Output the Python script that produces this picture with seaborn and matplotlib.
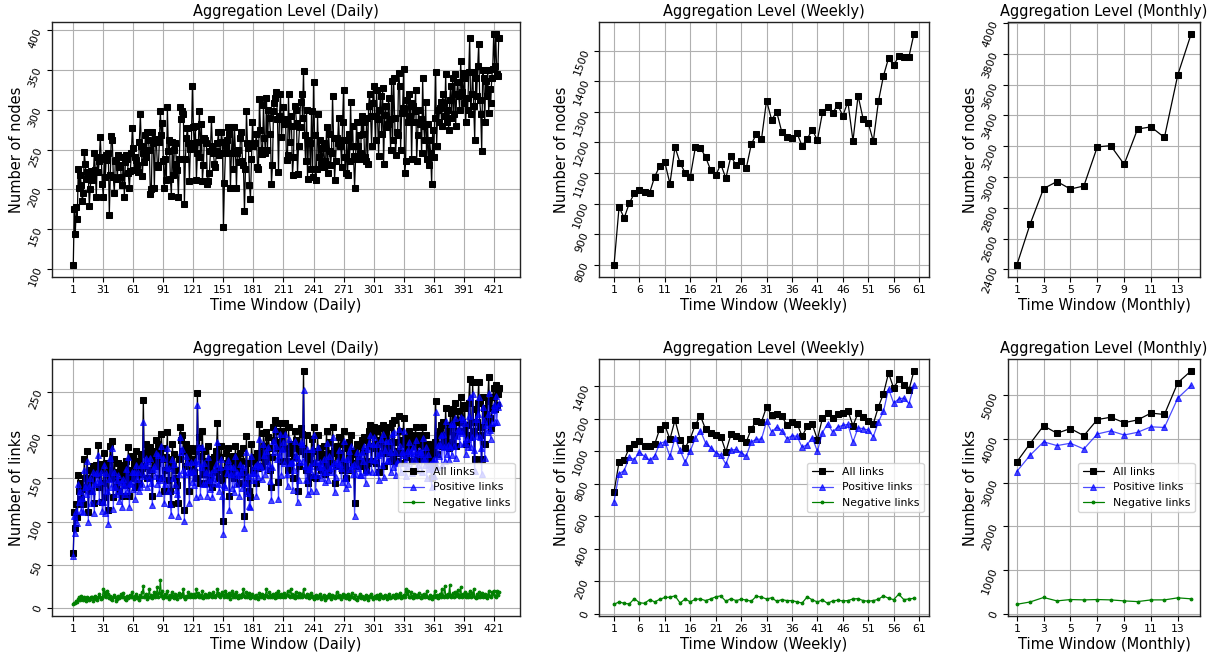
import numpy as np
import pandas as pd
import matplotlib
matplotlib.use("Agg")
import matplotlib.pyplot as plt
import seaborn as sns

# ---- daily (426 windows) ----
daily_nodes = [
    104, 175, 144, 178, 163, 225, 202, 218, 205, 185, 195, 247, 232, 213, 222, 218, 179, 200, 223, 212, 215, 246, 224, 190, 240, 222, 236, 266, 238, 207,
    190, 240, 215, 243, 237, 245, 168, 218, 267, 262, 215, 195, 235, 237, 213, 243, 228, 230, 215, 205, 240, 190, 234, 243, 238, 220, 201, 223, 245, 277,
    252, 224, 240, 237, 230, 222, 260, 295, 255, 216, 245, 234, 268, 240, 272, 262, 249, 194, 200, 272, 258, 202, 263, 259, 231, 228, 260, 298, 268, 283,
    236, 201, 238, 212, 303, 248, 262, 213, 192, 260, 218, 250, 258, 232, 224, 190, 238, 303, 288, 298, 295, 181, 238, 265, 277, 258, 210, 251, 258, 330,
    278, 253, 280, 212, 245, 260, 298, 240, 282, 210, 230, 265, 262, 258, 206, 210, 220, 248, 288, 255, 245, 232, 228, 248, 258, 272, 243, 245, 272, 260,
    153, 208, 246, 255, 262, 278, 270, 201, 245, 278, 226, 278, 248, 202, 246, 250, 234, 265, 272, 235, 230, 172, 225, 298, 258, 252, 205, 188, 238, 285,
    255, 258, 258, 270, 228, 225, 314, 275, 250, 244, 306, 265, 245, 315, 250, 300, 290, 270, 207, 230, 298, 308, 315, 322, 288, 222, 292, 320, 266, 288,
    303, 282, 288, 237, 243, 320, 260, 292, 280, 218, 240, 305, 300, 283, 219, 255, 278, 310, 320, 290, 349, 268, 236, 300, 213, 262, 258, 226, 298, 215,
    335, 268, 211, 225, 295, 240, 262, 232, 252, 228, 258, 236, 232, 278, 220, 270, 248, 230, 245, 318, 265, 212, 236, 265, 258, 290, 255, 262, 228, 285,
    325, 240, 220, 262, 218, 270, 235, 310, 255, 280, 242, 202, 238, 285, 255, 268, 245, 238, 292, 270, 285, 240, 235, 290, 232, 305, 320, 292, 255, 308,
    330, 292, 262, 325, 288, 242, 300, 318, 270, 328, 232, 294, 305, 278, 282, 315, 288, 250, 336, 262, 340, 290, 243, 272, 268, 346, 330, 250, 296, 302,
    351, 221, 236, 312, 285, 320, 292, 308, 238, 305, 285, 298, 325, 236, 268, 300, 282, 288, 245, 340, 280, 262, 310, 238, 282, 230, 262, 245, 206, 275,
    240, 290, 347, 255, 300, 285, 302, 310, 280, 320, 308, 292, 345, 285, 300, 275, 312, 330, 290, 340, 295, 345, 280, 320, 335, 318, 300, 362, 322, 346,
    308, 340, 285, 315, 300, 348, 391, 295, 320, 348, 305, 262, 340, 318, 355, 383, 312, 295, 248, 350, 340, 285, 336, 318, 350, 296, 326, 308, 340, 352,
    396, 355, 395, 345, 343, 390,
]
daily_all = [
    64, 111, 93, 120, 105, 154, 135, 145, 126, 138, 120, 173, 150, 140, 182, 111, 150, 160, 135, 148, 165, 121, 158, 166, 155, 189, 140, 160, 167, 123,
    145, 180, 128, 168, 155, 113, 160, 188, 150, 194, 128, 172, 152, 140, 158, 168, 135, 148, 162, 130, 166, 154, 142, 170, 150, 186, 130, 160, 155, 176,
    150, 168, 140, 182, 160, 170, 145, 155, 178, 162, 241, 165, 180, 190, 150, 183, 172, 186, 160, 130, 175, 182, 165, 195, 168, 190, 150, 180, 202, 172,
    185, 135, 160, 175, 204, 148, 172, 135, 120, 190, 165, 178, 160, 150, 142, 122, 172, 210, 195, 200, 182, 113, 165, 190, 182, 175, 136, 170, 185, 160,
    172, 158, 182, 150, 249, 185, 198, 145, 176, 205, 155, 182, 160, 170, 145, 188, 165, 152, 172, 140, 168, 175, 158, 182, 214, 160, 150, 175, 188, 148,
    101, 155, 160, 180, 168, 185, 130, 175, 170, 158, 176, 150, 188, 162, 172, 165, 145, 180, 170, 155, 185, 107, 158, 199, 145, 168, 135, 128, 190, 172,
    160, 170, 175, 145, 180, 162, 213, 180, 175, 165, 203, 188, 170, 204, 175, 198, 185, 160, 140, 175, 210, 195, 218, 205, 185, 146, 192, 214, 170, 198,
    205, 185, 214, 170, 160, 210, 180, 190, 185, 150, 175, 205, 195, 188, 135, 165, 182, 208, 202, 185, 275, 178, 160, 200, 145, 172, 180, 152, 196, 168,
    210, 182, 150, 165, 200, 175, 185, 160, 178, 170, 188, 155, 168, 205, 160, 192, 175, 168, 180, 210, 182, 145, 165, 188, 176, 198, 180, 172, 160, 190,
    205, 165, 150, 185, 160, 192, 175, 200, 182, 168, 178, 122, 165, 190, 175, 188, 170, 165, 195, 182, 198, 170, 160, 195, 168, 205, 212, 188, 170, 200,
    210, 185, 168, 205, 190, 158, 195, 208, 180, 212, 165, 198, 205, 180, 185, 210, 192, 170, 214, 178, 218, 192, 170, 182, 180, 222, 205, 168, 195, 190,
    220, 180, 175, 198, 185, 205, 192, 200, 170, 198, 188, 192, 210, 172, 180, 200, 190, 192, 172, 210, 188, 178, 200, 170, 190, 172, 182, 175, 150, 185,
    165, 192, 240, 178, 200, 190, 205, 212, 188, 215, 200, 195, 232, 190, 205, 185, 212, 226, 192, 230, 200, 238, 188, 215, 228, 218, 205, 245, 215, 235,
    205, 232, 190, 212, 200, 238, 265, 198, 215, 262, 205, 172, 230, 215, 238, 262, 210, 200, 172, 245, 232, 190, 225, 215, 240, 268, 220, 208, 232, 245,
    255, 230, 258, 235, 248, 255,
]
daily_pos = [
    60, 106, 87, 112, 98, 144, 123, 136, 112, 127, 111, 160, 140, 132, 170, 100, 141, 150, 122, 136, 157, 110, 144, 156, 146, 177, 124, 147, 157, 112,
    123, 166, 110, 156, 135, 97, 149, 174, 140, 185, 115, 157, 140, 132, 148, 154, 124, 136, 146, 117, 149, 142, 132, 161, 136, 175, 117, 145, 143, 158,
    138, 158, 126, 166, 149, 157, 136, 140, 166, 144, 216, 153, 166, 174, 140, 170, 150, 174, 145, 119, 161, 164, 153, 179, 144, 177, 133, 148, 188, 152,
    174, 121, 144, 163, 185, 135, 162, 120, 108, 172, 151, 167, 144, 137, 132, 107, 155, 198, 181, 184, 160, 101, 155, 176, 169, 157, 121, 158, 169, 146,
    159, 142, 170, 128, 235, 168, 186, 130, 163, 186, 144, 168, 144, 158, 130, 175, 148, 138, 156, 128, 150, 161, 145, 167, 192, 143, 136, 163, 172, 130,
    86, 142, 140, 164, 156, 171, 113, 165, 155, 139, 163, 134, 176, 144, 158, 154, 130, 167, 158, 139, 163, 93, 145, 181, 133, 153, 118, 117, 176, 156,
    148, 156, 164, 130, 167, 152, 196, 166, 163, 149, 190, 177, 155, 182, 161, 186, 167, 147, 125, 163, 194, 181, 207, 188, 172, 126, 177, 202, 154, 184,
    192, 168, 202, 155, 141, 196, 168, 168, 169, 137, 160, 194, 177, 174, 123, 148, 169, 192, 190, 170, 253, 164, 148, 184, 132, 161, 165, 135, 184, 154,
    200, 169, 135, 154, 186, 163, 169, 150, 165, 158, 173, 146, 157, 191, 148, 176, 162, 158, 165, 198, 168, 134, 152, 170, 164, 183, 167, 162, 146, 174,
    193, 150, 139, 172, 144, 182, 161, 188, 165, 155, 167, 107, 155, 181, 162, 176, 154, 154, 181, 170, 188, 157, 145, 184, 159, 191, 200, 172, 157, 190,
    198, 171, 157, 190, 177, 148, 179, 196, 166, 201, 152, 183, 193, 170, 171, 194, 181, 157, 202, 163, 204, 181, 154, 169, 168, 207, 188, 157, 181, 177,
    205, 168, 153, 182, 165, 192, 180, 182, 156, 187, 172, 179, 195, 160, 166, 183, 178, 181, 157, 197, 172, 166, 186, 151, 178, 161, 167, 162, 140, 171,
    153, 172, 227, 163, 189, 176, 189, 200, 166, 201, 187, 170, 217, 178, 189, 171, 186, 213, 177, 213, 188, 220, 174, 199, 207, 205, 190, 221, 203, 219,
    191, 214, 178, 196, 187, 223, 245, 186, 198, 248, 183, 159, 219, 199, 225, 244, 198, 185, 155, 233, 218, 174, 212, 204, 225, 249, 206, 196, 214, 229,
    235, 216, 246, 216, 233, 237,
]
daily_neg = [
    4, 5, 6, 8, 7, 10, 12, 9, 14, 11, 9, 13, 10, 8, 12, 11, 9, 10, 13, 12, 8, 11, 14, 10, 9, 12, 16, 13, 10, 11,
    22, 14, 18, 12, 20, 16, 11, 14, 10, 9, 13, 15, 12, 8, 10, 14, 11, 12, 16, 13, 17, 12, 10, 9, 14, 11, 13, 15, 12, 18,
    12, 10, 14, 16, 11, 13, 9, 15, 12, 18, 25, 12, 14, 16, 10, 13, 22, 12, 15, 11, 14, 18, 12, 16, 24, 13, 17, 32, 14, 20,
    11, 14, 16, 12, 19, 13, 10, 15, 12, 18, 14, 11, 16, 13, 10, 15, 17, 12, 14, 16, 22, 12, 10, 14, 13, 18, 15, 12, 16, 14,
    13, 16, 12, 22, 14, 17, 12, 15, 13, 19, 11, 14, 16, 12, 15, 13, 17, 14, 16, 12, 18, 14, 13, 15, 22, 17, 14, 12, 16, 18,
    15, 13, 20, 16, 12, 14, 17, 10, 15, 19, 13, 16, 12, 18, 14, 11, 15, 13, 12, 16, 22, 14, 13, 18, 12, 15, 17, 11, 14, 16,
    12, 14, 11, 15, 13, 10, 17, 14, 12, 16, 13, 11, 15, 22, 14, 12, 18, 13, 15, 12, 16, 14, 11, 17, 13, 20, 15, 12, 16, 14,
    13, 17, 12, 15, 19, 14, 12, 22, 16, 13, 15, 11, 18, 14, 12, 17, 13, 16, 12, 15, 22, 14, 12, 16, 13, 11, 15, 17, 12, 14,
    10, 13, 15, 11, 14, 12, 16, 10, 13, 12, 15, 9, 11, 14, 12, 16, 13, 10, 15, 12, 14, 11, 13, 18, 12, 15, 13, 10, 14, 16,
    12, 15, 11, 13, 16, 10, 14, 12, 17, 13, 11, 15, 10, 9, 13, 12, 16, 11, 14, 12, 10, 13, 15, 11, 9, 14, 12, 16, 13, 10,
    12, 14, 11, 15, 13, 10, 16, 12, 14, 11, 13, 15, 12, 10, 14, 16, 11, 13, 12, 15, 14, 11, 16, 13, 12, 15, 17, 11, 14, 13,
    15, 12, 22, 16, 20, 13, 12, 18, 14, 11, 16, 13, 15, 12, 14, 17, 12, 11, 15, 13, 16, 12, 14, 19, 12, 11, 15, 13, 10, 14,
    12, 20, 13, 15, 11, 14, 16, 12, 22, 14, 13, 25, 15, 12, 16, 14, 26, 13, 15, 17, 12, 18, 14, 16, 21, 13, 15, 24, 12, 16,
    14, 18, 12, 16, 13, 15, 20, 12, 17, 14, 22, 13, 11, 16, 13, 18, 12, 15, 17, 12, 14, 16, 13, 11, 15, 19, 14, 12, 18, 16,
    20, 14, 12, 19, 15, 18,
]

# ---- weekly (60 windows) ----
weekly_nodes = [798, 989, 953, 1001, 1034, 1043, 1037, 1035, 1088, 1123, 1135, 1065, 1185, 1133, 1100,
                1087, 1184, 1182, 1153, 1110, 1092, 1129, 1083, 1156, 1125, 1141, 1115, 1194, 1228, 1210,
                1337, 1274, 1300, 1234, 1218, 1216, 1230, 1188, 1212, 1242, 1207, 1298, 1317, 1296, 1323,
                1287, 1333, 1205, 1353, 1277, 1264, 1204, 1334, 1418, 1476, 1452, 1482, 1478, 1480, 1556]
weekly_all = [747, 934, 946, 1019, 1044, 1062, 1029, 1029, 1042, 1137, 1158, 1073, 1191, 1071, 1021,
              1077, 1162, 1216, 1135, 1110, 1098, 1089, 996, 1102, 1094, 1079, 1054, 1137, 1185, 1179,
              1272, 1220, 1226, 1214, 1160, 1177, 1168, 1091, 1152, 1164, 1071, 1204, 1231, 1204, 1226,
              1235, 1247, 1156, 1235, 1212, 1187, 1168, 1272, 1353, 1480, 1386, 1440, 1409, 1376, 1494]
weekly_pos = [689, 861, 880, 961, 948, 994, 967, 942, 971, 1046, 1058, 967, 1081, 1004, 932,
              1002, 1079, 1125, 1050, 1021, 990, 975, 919, 1006, 1010, 990, 969, 1056, 1073, 1073,
              1183, 1118, 1147, 1125, 1077, 1094, 1091, 1023, 1040, 1083, 998, 1114, 1168, 1118, 1147,
              1158, 1164, 1056, 1143, 1137, 1129, 1089, 1179, 1245, 1382, 1295, 1320, 1326, 1291, 1403]
weekly_neg = [58, 73, 64, 60, 93, 68, 64, 87, 73, 89, 100, 102, 110, 66, 91,
              73, 89, 91, 81, 91, 104, 110, 77, 93, 81, 89, 85, 77, 108, 102,
              91, 98, 77, 87, 81, 81, 73, 66, 104, 85, 73, 85, 64, 79, 83,
              79, 81, 91, 93, 81, 77, 81, 89, 110, 95, 87, 120, 87, 91, 95]

# ---- monthly (14 windows) ----
monthly_nodes = [2426, 2695, 2925, 2971, 2922, 2942, 3196, 3204, 3083, 3312, 3326, 3257, 3665, 3932]
monthly_all = [3469, 3891, 4297, 4125, 4234, 4070, 4438, 4492, 4367, 4430, 4586, 4555, 5281, 5555]
monthly_pos = [3250, 3625, 3930, 3844, 3898, 3766, 4109, 4180, 4086, 4148, 4273, 4258, 4930, 5219]
monthly_neg = [219, 273, 375, 297, 328, 320, 328, 320, 297, 281, 320, 320, 367, 344]

levels = [
    ("Daily", daily_nodes, daily_all, daily_pos, daily_neg, 30),
    ("Weekly", weekly_nodes, weekly_all, weekly_pos, weekly_neg, 5),
    ("Monthly", monthly_nodes, monthly_all, monthly_pos, monthly_neg, 2),
]

sns.set_style("ticks")
plt.rcParams.update({
    "font.family": ["DejaVu Sans"],
    "axes.grid": True,
    "grid.color": "#b0b0b0",
    "grid.linewidth": 0.8,
    "axes.edgecolor": "#222222",
    "axes.linewidth": 1.0,
    "text.color": "black",
    "axes.labelcolor": "black",
    "xtick.color": "black",
    "ytick.color": "black",
    "xtick.major.pad": 2.5,
    "ytick.major.pad": 2.5,
    "axes.labelpad": 2.0,
})

fig = plt.figure(figsize=(12.07, 6.53), dpi=100)
W, H = 1207, 653
cols = [(52, 520), (599, 929), (1008, 1200)]
rows = [(22, 277), (359, 616)]


def finish(ax, name, ylabel, n, step):
    ax.set_title(f"Aggregation Level ({name})", fontsize=10.5, pad=4)
    ax.set_xlabel(f"Time Window ({name})", fontsize=10.5)
    ax.set_ylabel(ylabel, fontsize=10.5)
    lo, hi = ax.get_xlim()
    ticks = np.arange(1, n + 2, step)
    ax.set_xticks(ticks[ticks <= hi])
    ax.set_xlim(lo, hi)
    ax.tick_params(axis="both", labelsize=7.8)
    ax.tick_params(axis="y", labelrotation=70)
    ax.grid(True)


for j, (name, nodes, all_l, pos_l, neg_l, step) in enumerate(levels):
    t = np.arange(1, len(nodes) + 1)
    x0, x1 = cols[j]

    # top row: number of nodes
    y0, y1 = rows[0]
    ax = fig.add_axes([x0 / W, 1 - y1 / H, (x1 - x0) / W, (y1 - y0) / H])
    sns.lineplot(x=t, y=nodes, ax=ax, color="k", marker="s", markersize=4.5,
                 markeredgecolor="k", linewidth=0.9)
    finish(ax, name, "Number of nodes", len(nodes), step)

    # bottom row: number of links
    y0, y1 = rows[1]
    ax = fig.add_axes([x0 / W, 1 - y1 / H, (x1 - x0) / W, (y1 - y0) / H])
    sns.lineplot(x=t, y=all_l, ax=ax, color="k", marker="s", markersize=4.5,
                 markeredgecolor="k", linewidth=0.9, label="All links")
    sns.lineplot(x=t, y=pos_l, ax=ax, color="b", marker="^", markersize=4.5,
                 markeredgecolor="b", linewidth=0.9, alpha=0.7, label="Positive links")
    sns.lineplot(x=t, y=neg_l, ax=ax, color="g", marker=".", markersize=4,
                 markeredgecolor="g", linewidth=0.9, label="Negative links")
    finish(ax, name, "Number of links", len(nodes), step)
    ax.legend(loc="center right", fontsize=7.8, framealpha=0.8)

fig.savefig("out.png", dpi=100)
